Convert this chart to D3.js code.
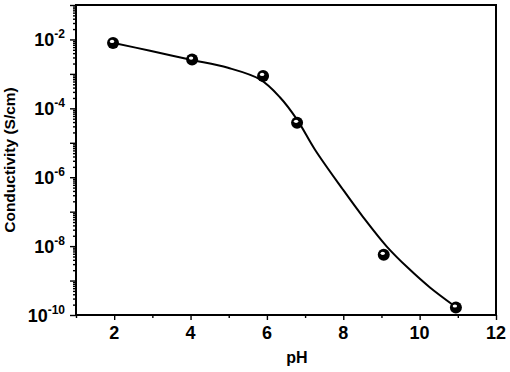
<!DOCTYPE html>
<html><head><meta charset="utf-8">
<script src="https://cdn.jsdelivr.net/npm/d3@7"></script>
<style>body{margin:0;background:#fff}svg{display:block}</style>
</head><body>
<script>
// Measured points
const pointPH = [1.97, 4.04, 5.90, 6.79, 9.06, 10.95];
const pointCond = [7.9e-3, 2.6e-3, 8.7e-4, 3.8e-5, 5.6e-9, 1.65e-10];
// Fitted curve
const curvePH = [1.99, 2.94, 3.98, 4.98, 5.82, 6.34, 6.79, 7.26, 7.99, 8.51, 9.14, 9.7, 10.27, 10.92];
const curveCond = [7.9e-3, 4.7e-3, 2.6e-3, 1.5e-3, 6.9e-4, 2.1e-4, 4.7e-5, 6.3e-6, 4.4e-7, 7.2e-8, 9.7e-9, 2.3e-9, 6.3e-10, 1.8e-10];
const xTicks = [2, 4, 6, 8, 10, 12];
const xMinorTicks = [1, 3, 5, 7, 9, 11];
const yLabelExps = [-2, -4, -6, -8, -10];
const xTitle = "pH";
const yTitle = "Conductivity (S/cm)";

const W = 510, H = 372;
const L = 76, R = 496, T = 5, B = 315;
const svg = d3.select("body").append("svg").attr("width", W).attr("height", H);
const x = d3.scaleLinear().domain([1, 12]).range([L, R]);
const y = d3.scaleLog().domain([1e-10, 1e-1]).range([B, T]);
const font = "'Liberation Sans', Arial, sans-serif";

// y ticks
const majorY = d3.range(-10, 0).map(e => Math.pow(10, e));
const minorY = [];
for (let e = -10; e < -1; e++) for (let m = 2; m <= 9; m++) minorY.push(m * Math.pow(10, e));

const yAxisMinor = d3.axisLeft(y).tickValues(minorY).tickSize(3).tickSizeOuter(0).tickFormat("");
const yAxisMajor = d3.axisLeft(y).tickValues(majorY).tickSize(6).tickSizeOuter(0).tickFormat("");
[yAxisMinor, yAxisMajor].forEach(a => {
  const g = svg.append("g").attr("transform", `translate(${L},0)`).call(a);
  g.select(".domain").remove();
  g.selectAll("line").attr("stroke", "#000").attr("stroke-width", 1.4);
});
const xAxisMinor = d3.axisBottom(x).tickValues(xMinorTicks).tickSize(3).tickSizeOuter(0).tickFormat("");
const xAxisMajor = d3.axisBottom(x).tickValues(xTicks).tickSize(5).tickSizeOuter(0).tickFormat("");
[xAxisMinor, xAxisMajor].forEach(a => {
  const g = svg.append("g").attr("transform", `translate(0,${B})`).call(a);
  g.select(".domain").remove();
  g.selectAll("line").attr("stroke", "#000").attr("stroke-width", 1.4);
});

// x tick labels
svg.append("g").selectAll("text").data(xTicks).join("text")
  .attr("x", d => x(d)).attr("y", 339)
  .attr("text-anchor", "middle").attr("font-family", font).attr("font-weight", "bold")
  .attr("font-size", 18).text(d => d);

// y tick labels with superscripts
const yl = svg.append("g").selectAll("text").data(yLabelExps).join("text")
  .attr("x", 65).attr("y", d => y(Math.pow(10, d)) + 6.5)
  .attr("text-anchor", "end").attr("font-family", font).attr("font-weight", "bold")
  .attr("font-size", 18);
yl.append("tspan").text("10");
yl.append("tspan").attr("font-size", 12).attr("dy", -8).text(d => String(d));

// titles
svg.append("text").attr("x", 297).attr("y", 363).attr("text-anchor", "middle")
  .attr("font-family", font).attr("font-weight", "bold").attr("font-size", 16).text(xTitle);
svg.append("text").attr("transform", `translate(15,${(T + B) / 2}) rotate(-90)`)
  .attr("text-anchor", "middle").attr("font-family", font).attr("font-weight", "bold")
  .attr("font-size", 15.5).text(yTitle);

// frame
svg.append("rect").attr("x", L).attr("y", T).attr("width", R - L).attr("height", B - T)
  .attr("fill", "none").attr("stroke", "#000").attr("stroke-width", 2);

// curve
const curveData = curvePH.map((p, i) => [p, curveCond[i]]);
svg.append("path").datum(curveData)
  .attr("d", d3.line().x(d => x(d[0])).y(d => y(d[1])).curve(d3.curveCatmullRom.alpha(0.5)))
  .attr("fill", "none").attr("stroke", "#000").attr("stroke-width", 2);

// markers
const pts = pointPH.map((p, i) => [p, pointCond[i]]);
const mg = svg.append("g").selectAll("g").data(pts).join("g")
  .attr("transform", d => `translate(${x(d[0])},${y(d[1])})`);
mg.append("circle").attr("r", 6).attr("fill", "#000");
mg.append("ellipse").attr("cx", -1).attr("cy", -1.5).attr("rx", 2.2).attr("ry", 1.6).attr("fill", "#fff");
</script>
</body></html>
